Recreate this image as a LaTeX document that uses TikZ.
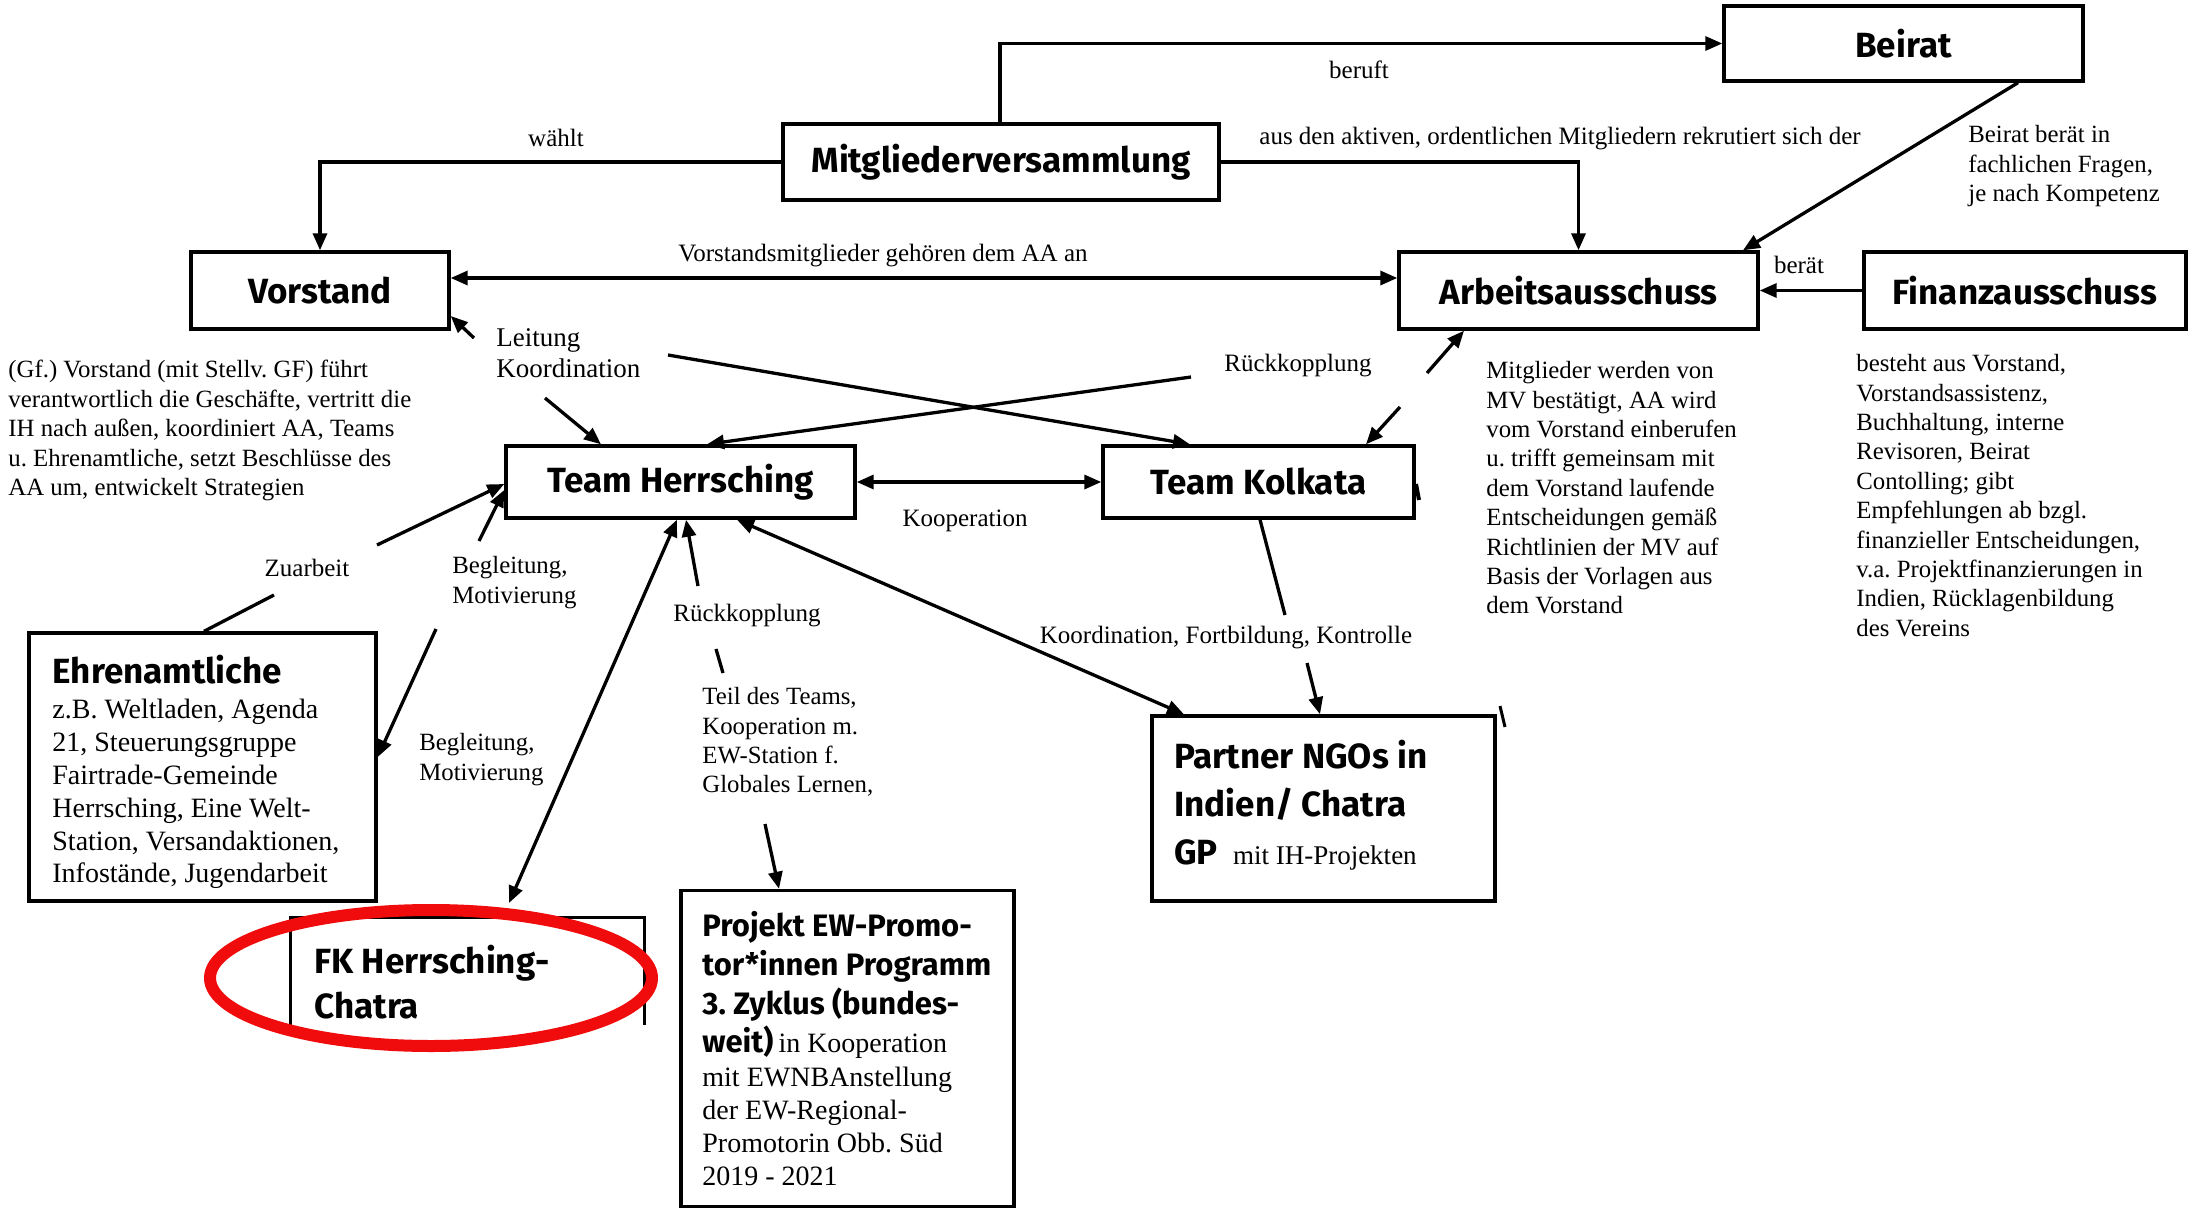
\documentclass[tikz,border=0pt]{standalone}
\usepackage{fontspec}
\setmainfont{Liberation Serif}
\newfontfamily\cfont{Fira Sans}
\usetikzlibrary{arrows.meta,calc}
\definecolor{ered}{RGB}{240,12,12}
\frenchspacing
\tikzset{
 box/.style={draw, line width=1.7pt, inner sep=0pt, font=\cfont\bfseries\fontsize{17.5}{20}\selectfont},
 frame/.style={line width=1.7pt},
 conn/.style={line width=1.65pt, -{Triangle[length=8.5pt,width=7pt]}},
 dconn/.style={line width=1.65pt, {Triangle[length=8.5pt,width=7pt]}-{Triangle[length=8.5pt,width=7pt]}},
 plain/.style={line width=1.65pt},
 lbl/.style={font=\fontsize{12.5}{14.6}\selectfont, inner sep=0pt},
 blk/.style={align=left, inner sep=0pt, anchor=north west, font=\fontsize{12.4}{14.7}\selectfont},
 bold/.style={font=\cfont\bfseries\fontsize{17.5}{20}\selectfont},
}
\begin{document}
\begin{tikzpicture}[x=0.5pt,y=-0.5pt]
\useasboundingbox (0,0) rectangle (2190,1210);
\fill[white] (0,0) rectangle (2190,1210);

% boxes
\node[box, minimum width=179.5pt, minimum height=37.5pt] (beirat) at (1903.5,43.5) {Beirat};
\node[box, minimum width=218pt, minimum height=38pt] (mv) at (1001,162) {Mitgliederversammlung};
\node[box, minimum width=129pt, minimum height=38.5pt] (vorstand) at (320,290.5) {Vorstand};
\node[box, minimum width=179.5pt, minimum height=38.5pt] (aa) at (1578.5,290.5) {Arbeitsausschuss};
\node[box, minimum width=161pt, minimum height=38.5pt] (fa) at (2025,290.5) {Finanzausschuss};
\node[box, minimum width=174.5pt, minimum height=36pt] (th) at (680.5,482) {Team Herrsching};
\node[box, minimum width=155.5pt, minimum height=36pt] (tk) at (1258.5,482) {Team Kolkata};
\node[box, minimum width=173.5pt, minimum height=134pt] (ehren) at (202.5,767) {};
\node[box, minimum width=166.5pt, minimum height=158pt] (projekt) at (847.5,1048.5) {};
\node[box, minimum width=171.5pt, minimum height=92.5pt] (partner) at (1323.5,808.5) {};
\node[inner sep=0pt, minimum width=176.5pt, minimum height=53.5pt] (fk) at (467.5,971.5) {};
\draw[frame] (fk.south west) |- (fk.north east) -- (fk.south east);

% box texts
\node[anchor=west, inner sep=0pt, bold] (tehrt) at (52,670) {Ehrenamtliche};
\node[blk, font=\fontsize{14}{16.4}\selectfont] (tehr) at (52,699) {z.B. Weltladen, Agenda\\21, Steuerungsgruppe\\Fairtrade-Gemeinde\\Herrsching, Eine Welt-\\Station, Versandaktionen,\\Infostände, Jugendarbeit};
\node[blk, font=\cfont\bfseries\fontsize{17.5}{22.5}\selectfont] (tfk) at (314,945) {FK Herrsching-\\Chatra};
\node[blk, font=\cfont\bfseries\fontsize{15.5}{19.5}\selectfont] (tproj) at (702,911) {Projekt EW-Promo-\\tor*innen Programm\\3. Zyklus (bundes-};
\node[anchor=west, inner sep=0pt] (tproj2) at (702,1042) {{\cfont\bfseries\fontsize{15.5}{19.5}\selectfont weit)} {\fontsize{14}{16.4}\selectfont in Kooperation}};
\node[blk, font=\fontsize{14}{16.4}\selectfont] (tproj3) at (702,1067) {mit EWNBAnstellung\\der EW-Regional-\\Promotorin Obb. Süd\\2019 - 2021};
\node[blk, font=\cfont\bfseries\fontsize{17.5}{24}\selectfont] (tpart) at (1174,740) {Partner NGOs in\\Indien/ Chatra\\GP {\rmfamily\mdseries\fontsize{13.5}{24}\selectfont\ mit IH-Projekten}};

% red ellipse
\draw[ered, line width=6pt] (431,978) ellipse [x radius=110.5pt, y radius=34pt];

% side texts
\node[blk] (tvor) at (8,360) {(Gf.) Vorstand (mit Stellv. GF) führt\\verantwortlich die Geschäfte, vertritt die\\IH nach außen, koordiniert AA, Teams\\u. Ehrenamtliche, setzt Beschlüsse des\\AA um, entwickelt Strategien};
\node[blk] (tmit) at (1486,361) {Mitglieder werden von\\MV bestätigt, AA wird\\vom Vorstand einberufen\\u. trifft gemeinsam mit\\dem Vorstand laufende\\Entscheidungen gemäß\\Richtlinien der MV auf\\Basis der Vorlagen aus\\dem Vorstand};
\node[blk] (tbest) at (1856,354) {besteht aus Vorstand,\\Vorstandsassistenz,\\Buchhaltung, interne\\Revisoren, Beirat\\Contolling; gibt\\Empfehlungen ab bzgl.\\finanzieller Entscheidungen,\\v.a. Projektfinanzierungen in\\Indien, Rücklagenbildung\\des Vereins};

% top connectors
\draw[conn] (mv.north -| 1000,0) |- (beirat.west);
\node[lbl] (lberuft) at (1359,70) {beruft};
\draw[conn] (mv.west) -| (vorstand.north);
\node[lbl] (lwaehlt) at (556,138) {wählt};
\draw[conn] (mv.east) -| (aa.north);
\node[lbl] (laus) at (1560,139) {aus den aktiven, ordentlichen Mitgliedern rekrutiert sich der};
\draw[conn] (beirat.south -| 2018,0) -- (aa.north -| 1743,0);
\node[blk] (lbeirat) at (1968,125) {Beirat berät in\\fachlichen Fragen,\\je nach Kompetenz};
\draw[conn] (fa.west) -- (aa.east);
\node[lbl] (lberaet) at (1799,265) {berät};
\draw[dconn] (vorstand.east |- 0,278) -- (aa.west |- 0,278);
\node[lbl] (lvm) at (883,256) {Vorstandsmitglieder gehören dem AA an};

% Leitung / Koordination
\coordinate (ls) at (474,338);
\draw[conn] (ls) -- (vorstand.east |- 0,316);
\node[blk, font=\fontsize{13.5}{15.5}\selectfont] (lleit) at (496,328) {Leitung\\Koordination};
\coordinate (la) at (545,398);
\draw[conn] (la) -- (th.north -| 601,0);
\coordinate (lb) at (668,355);
\draw[conn] (lb) -- (tk.north -| 1190,0);

% Rueckkopplung (top)
\node[lbl] (lrk1) at (1298,366) {Rückkopplung};
\coordinate (ra) at (1191,377);
\draw[conn] (ra) -- (th.north -| 707,0);
\coordinate (rb) at (1427,373);
\draw[conn] (rb) -- (aa.south -| 1464,0);
\coordinate (rc) at (1400,407);
\draw[conn] (rc) -- (tk.north -| 1366,0);

% Kooperation
\draw[dconn] (th.east) -- (tk.west);
\node[lbl] (lkoop) at (965,521) {Kooperation};

% Zuarbeit / Begleitung
\coordinate (za) at (274,595);
\draw[plain] (ehren.north -| 204,0) -- (za);
\node[lbl] (lzu) at (307,568) {Zuarbeit};
\coordinate (zb) at (377,545);
\draw[conn] (zb) -- (th.west |- 0,484);
\coordinate (ba) at (479,541);
\draw[conn] (ba) -- (th.west |- 0,490);
\node[blk] (lbeg1) at (452,556) {Begleitung,\\Motivierung};
\coordinate (bb) at (436,629);
\draw[conn] (bb) -- (ehren.east |- 0,757);
\node[blk] (lbeg2) at (419,733) {Begleitung,\\Motivierung};

% FK / Projekt
\coordinate (fktip) at (509,903);
\draw[dconn] (th.south -| 677,0) -- (fktip);
\coordinate (rk2) at (698,586);
\draw[conn] (rk2) -- (th.south -| 686,0);
\node[lbl] (lrk2) at (747,616) {Rückkopplung};
\coordinate (ta) at (716,649);
\coordinate (tb) at (723,673);
\draw[plain] (ta) -- (tb);
\node[blk] (lteil) at (702,687) {Teil des Teams,\\Kooperation m.\\EW-Station f.\\Globales Lernen,};
\coordinate (tc) at (765,824);
\draw[conn] (tc) -- (projekt.north -| 779,0);

% Partner
\draw[dconn] (th.south -| 737,0) -- (partner.north -| 1184,0);
\node[lbl] (lkfk) at (1226,638) {Koordination, Fortbildung, Kontrolle};
\coordinate (ka) at (1285,615);
\draw[plain] (tk.south -| 1260,0) -- (ka);
\coordinate (kb) at (1307,663);
\draw[conn] (kb) -- (partner.north -| 1320,0);

% small marks
\coordinate (m1) at (1416,484);
\coordinate (m2) at (1419,500);
\draw[line width=2pt] (m1) -- (m2);
\coordinate (m3) at (1500,706);
\coordinate (m4) at (1505,727);
\draw[line width=1.5pt] (m3) -- (m4);
\end{tikzpicture}
\end{document}
